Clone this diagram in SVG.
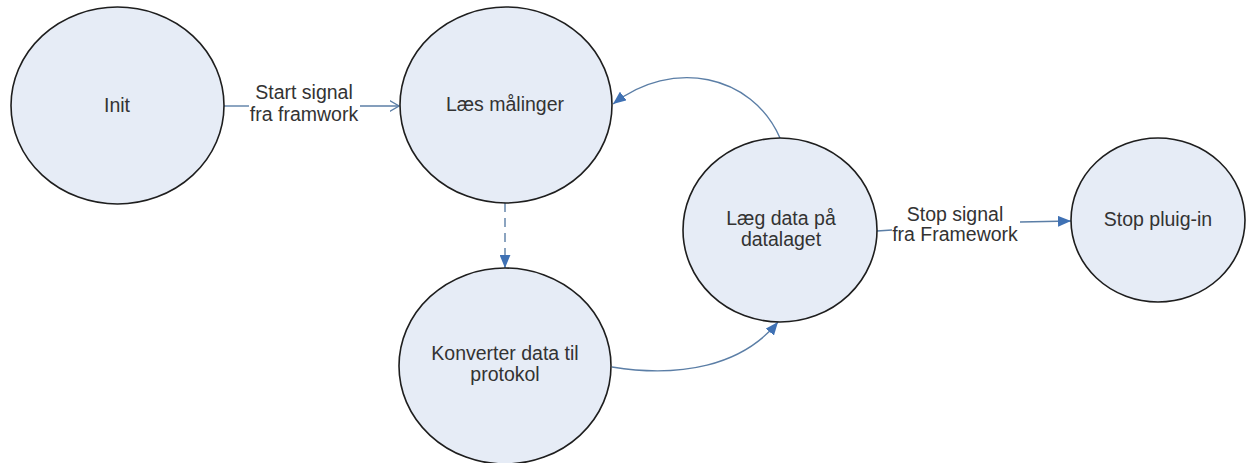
<svg xmlns="http://www.w3.org/2000/svg" width="1248" height="463" viewBox="0 0 1248 463">
  <style>
    .state { fill: #e6ecf6; stroke: #1e1e1e; stroke-width: 1.6; }
    .label { font-family: "Liberation Sans", Arial, sans-serif; font-size: 19.5px; fill: #333333; text-anchor: middle; }
    .edge { fill: none; stroke: #5b7ea6; stroke-width: 1.4; }
    .dashed { stroke-dasharray: 9 6; }
  </style>
  <defs>
    <marker id="solidArrow" viewBox="0 0 12 10" refX="12" refY="5" markerWidth="13" markerHeight="11" markerUnits="userSpaceOnUse" orient="auto">
      <path d="M0,0 L12,5 L0,10 Z" fill="#3f71b4"/>
    </marker>
    <marker id="openArrow" viewBox="0 0 10 12" refX="9.5" refY="6" markerWidth="10" markerHeight="12" markerUnits="userSpaceOnUse" orient="auto">
      <path d="M0,0.5 L9.5,6 L0,11.5" fill="none" stroke="#5b7ea6" stroke-width="1.3"/>
    </marker>
  </defs>

  <rect width="1248" height="463" fill="#ffffff"/>

  <!-- transitions -->
  <g id="connectors">
    <!-- Init -> Læs målinger -->
    <line class="edge" x1="224" y1="106" x2="249" y2="106"/>
    <line class="edge" x1="360" y1="106" x2="399" y2="106" marker-end="url(#openArrow)"/>
    <text class="label" x="304" y="99">Start signal</text>
    <text class="label" x="304" y="121">fra framwork</text>

    <!-- Læs målinger -> Konverter data til protokol -->
    <line class="edge dashed" x1="505" y1="203" x2="505" y2="268" marker-end="url(#solidArrow)"/>

    <!-- Konverter data til protokol -> Læg data på datalaget -->
    <path class="edge" d="M612,367 C680,378 742,366 778,322" marker-end="url(#solidArrow)"/>

    <!-- Læg data på datalaget -> Læs målinger -->
    <path class="edge" d="M780,138 C752,74 672,58 613,104" marker-end="url(#solidArrow)"/>

    <!-- Læg data på datalaget -> Stop pluig-in -->
    <line class="edge" x1="877" y1="231" x2="892" y2="230"/>
    <line class="edge" x1="1020" y1="222" x2="1071" y2="221" marker-end="url(#solidArrow)"/>
    <text class="label" x="955" y="221">Stop signal</text>
    <text class="label" x="955" y="241">fra Framework</text>
  </g>

  <g id="init">
    <ellipse class="state" cx="117.5" cy="105.5" rx="106.5" ry="98.5"/>
    <text class="label" x="117" y="112">Init</text>
  </g>

  <g id="laes-maalinger">
    <ellipse class="state" cx="506" cy="105" rx="106" ry="98"/>
    <text class="label" x="505" y="111">Læs målinger</text>
  </g>

  <g id="konverter">
    <ellipse class="state" cx="505" cy="366" rx="106" ry="98"/>
    <text class="label" x="505" y="360">Konverter data til</text>
    <text class="label" x="505" y="381">protokol</text>
  </g>

  <g id="laeg-data">
    <ellipse class="state" cx="780" cy="230" rx="97" ry="92"/>
    <text class="label" x="781" y="225">Læg data på</text>
    <text class="label" x="781" y="246">datalaget</text>
  </g>

  <g id="stop-plugin">
    <ellipse class="state" cx="1158" cy="220" rx="87" ry="82"/>
    <text class="label" x="1158" y="226">Stop pluig-in</text>
  </g>
</svg>
